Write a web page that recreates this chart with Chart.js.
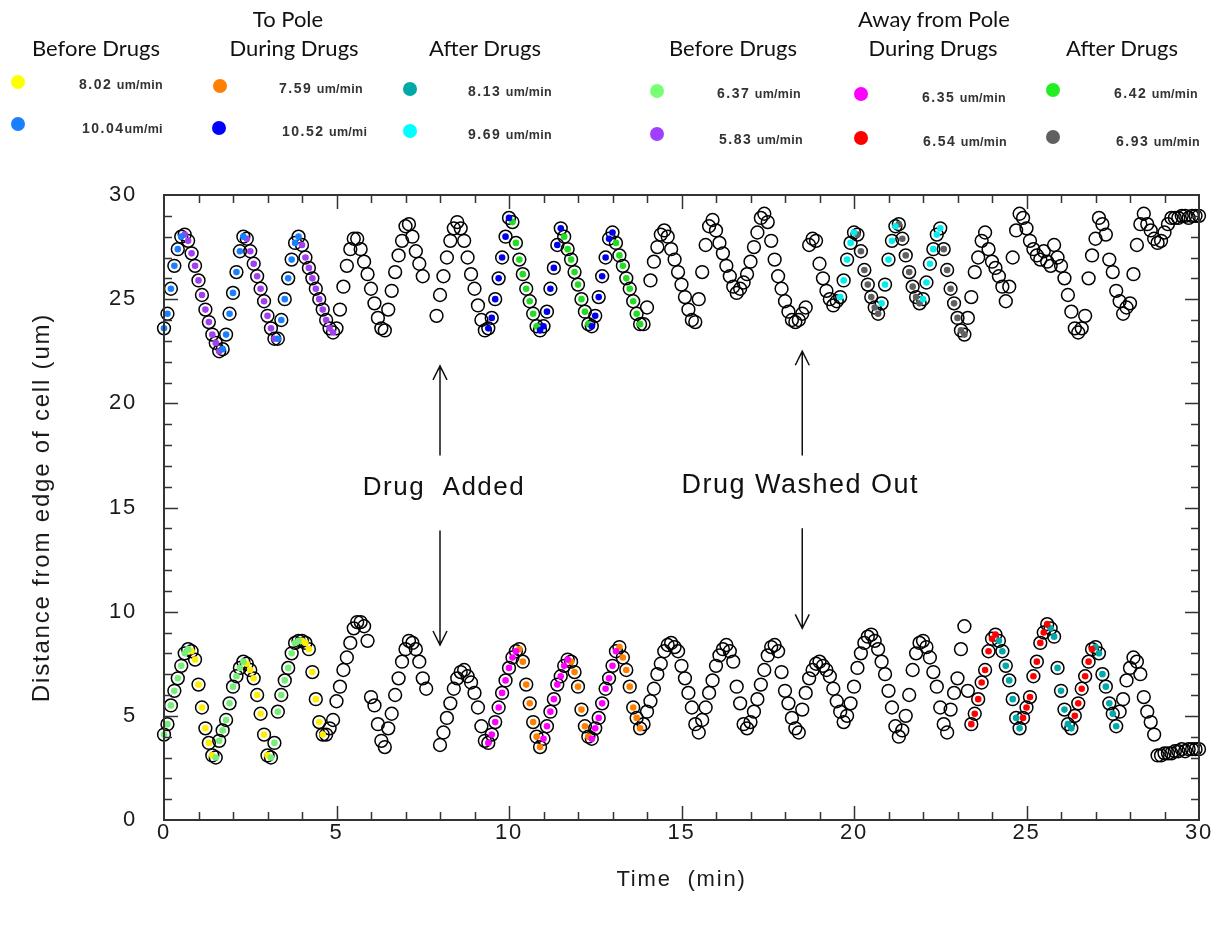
<!DOCTYPE html>
<html>
<head>
<meta charset="utf-8">
<script src="https://cdn.jsdelivr.net/npm/chart.js@4"></script>
<style>
  body { margin: 0; background: #fff; }
  #wrap { position: relative; width: 1217px; height: 926px; }
  #chart { position: absolute; left: 0; top: 0; }
  .hd { position: absolute; transform: translate(-50%, -50%); font: 22px Lato, 'Open Sans', sans-serif; color: #111; white-space: nowrap; }
  .dot { position: absolute; width: 14px; height: 14px; border-radius: 50%; transform: translate(-50%, -50%); }
  .val { position: absolute; transform: translateY(-50%); font-family: 'Liberation Sans', Arial, sans-serif; font-weight: bold; color: #333; white-space: nowrap; }
  .val b { font-size: 14px; letter-spacing: 1.5px; }
  .val span { font-size: 12.5px; letter-spacing: 0.3px; }
</style>
</head>
<body>
<div id="wrap">
  <canvas id="chart" width="1217" height="926"></canvas>

  <div class="hd" style="left:288px;top:18px">To Pole</div>
  <div class="hd" style="left:96px;top:47px">Before Drugs</div>
  <div class="hd" style="left:294px;top:47px">During Drugs</div>
  <div class="hd" style="left:485px;top:47px">After Drugs</div>
  <div class="hd" style="left:934px;top:18px">Away from Pole</div>
  <div class="hd" style="left:733px;top:47px">Before Drugs</div>
  <div class="hd" style="left:933px;top:47px">During Drugs</div>
  <div class="hd" style="left:1122px;top:47px">After Drugs</div>

  <div class="dot" style="left:18px;top:82px;background:#ffff00"></div>
  <div class="val" style="left:79px;top:84px"><b>8.02</b> <span>um/min</span></div>
  <div class="dot" style="left:18px;top:124px;background:#1a80ff"></div>
  <div class="val" style="left:82px;top:128px"><b>10.04</b><span>um/mi</span></div>
  <div class="dot" style="left:220px;top:86px;background:#ff7f00"></div>
  <div class="val" style="left:279px;top:88px"><b>7.59</b> <span>um/min</span></div>
  <div class="dot" style="left:219px;top:128px;background:#0000ff"></div>
  <div class="val" style="left:282px;top:131px"><b>10.52</b> <span>um/mi</span></div>
  <div class="dot" style="left:410px;top:89px;background:#00a8a8"></div>
  <div class="val" style="left:468px;top:91px"><b>8.13</b> <span>um/min</span></div>
  <div class="dot" style="left:410px;top:131px;background:#00ffff"></div>
  <div class="val" style="left:468px;top:134px"><b>9.69</b> <span>um/min</span></div>

  <div class="dot" style="left:657px;top:91px;background:#77ff77"></div>
  <div class="val" style="left:717px;top:93px"><b>6.37</b> <span>um/min</span></div>
  <div class="dot" style="left:657px;top:134px;background:#a040ff"></div>
  <div class="val" style="left:719px;top:139px"><b>5.83</b> <span>um/min</span></div>
  <div class="dot" style="left:861px;top:94px;background:#ff00ff"></div>
  <div class="val" style="left:922px;top:97px"><b>6.35</b> <span>um/min</span></div>
  <div class="dot" style="left:861px;top:138px;background:#ff0000"></div>
  <div class="val" style="left:923px;top:141px"><b>6.54</b> <span>um/min</span></div>
  <div class="dot" style="left:1053px;top:90px;background:#22ee22"></div>
  <div class="val" style="left:1114px;top:93px"><b>6.42</b> <span>um/min</span></div>
  <div class="dot" style="left:1053px;top:137px;background:#606060"></div>
  <div class="val" style="left:1116px;top:141px"><b>6.93</b> <span>um/min</span></div>
</div>

<script>
// sampling interval of the time-lapse (min)
const STEP = 0.1;

// upper kinetochore, distance (um) every STEP min from t = 0
const topTrack = [
  23.6, 24.3, 25.5, 26.6, 27.4, 28.0, 28.1, 27.8, 27.2, 26.6,
  25.9, 25.2, 24.5, 23.9, 23.3, 22.9, 22.5, 22.6, 23.3, 24.3,
  25.3, 26.3, 27.3, 28.0, 27.9, 27.3, 26.7, 26.1, 25.5, 24.9,
  24.2, 23.6, 23.1, 23.1, 24.0, 25.0, 26.0, 26.9, 27.7, 28.0,
  27.6, 27.0, 26.5, 26.0, 25.5, 25.0, 24.5, 24.0, 23.6, 23.4,
  23.6, 24.5, 25.6, 26.6, 27.4, 27.9, 27.9, 27.4, 26.8, 26.2,
  25.5, 24.8, 24.1, 23.6, 23.5, 24.5, 25.4, 26.3, 27.1, 27.8,
  28.5, 28.6, 28.0, 27.3, 26.7, 26.1, null, null, null, 24.2,
  25.2, 26.1, 27.0, 27.8, 28.4, 28.7, 28.4, 27.8, 27.0, 26.2,
  25.5, 24.7, 24.0, 23.5, 23.6, 24.1, 25.0, 26.0, 27.0, 28.0,
  28.9, 28.7, 27.7, 26.9, 26.2, 25.5, 24.9, 24.3, 23.7, 23.5,
  23.7, 24.4, 25.5, 26.5, 27.6, 28.4, 28.0, 27.4, 26.9, 26.3,
  25.7, 25.0, 24.4, 23.8, 23.7, 24.2, 25.1, 26.1, 27.0, 27.9,
  28.2, 27.7, 27.1, 26.6, 26.0, 25.5, 24.9, 24.3, 23.8, 23.8,
  24.6, 25.9, 26.8, 27.5, 28.1, 28.3, 28.0, 27.4, 26.9, 26.3,
  25.7, 25.1, 24.5, 24.0, 23.9, 25.0, 26.3, 27.6, 28.5, 28.8,
  28.3, 27.7, 27.2, 26.6, 26.1, 25.6, 25.3, 25.5, 25.8, 26.2,
  26.8, 27.5, 28.2, 28.9, 29.1, 28.7, 27.8, 26.9, 26.1, 25.5,
  24.9, 24.4, 24.0, 23.9, 24.0, 24.3, 24.6, 27.6, 27.9, 27.8,
  26.7, 26.0, 25.4, 25.0, 24.7, 24.9, 25.1, 25.9, 26.9, 27.7,
  28.2, 28.1, 27.3, 26.4, 25.7, 25.1, 24.6, 24.3, 24.8, 25.7,
  26.9, 27.8, 28.5, 28.6, 27.9, 27.1, 26.3, 25.6, 25.1, 24.8,
  25.0, 25.8, 26.7, 27.4, 28.1, 28.4, 27.4, 26.4, 25.5, 24.8,
  24.1, 23.5, 23.3, 24.1, 25.1, 26.3, 27.0, 27.8, 28.2, 27.4,
  26.8, 26.5, 26.1, 25.6, 24.9, 25.6, 27.0, 28.3, 29.1, 28.9,
  28.4, 27.8, 27.4, 27.1, 26.9, 27.3, 26.8, 26.6, 27.6, 27.0,
  26.6, 26.0, 25.2, 24.4, 23.6, 23.4, 23.6, 24.2, 26.0, 27.1,
  27.9, 28.9, 28.6, 28.1, 26.9, 26.3, 25.4, 24.9, 24.3, 24.6,
  24.8, 26.2, 27.6, 28.6, 29.1, 28.6, 28.3, 27.9, 27.7, 27.8,
  28.2, 28.6, 28.9, 28.9, 28.9, 29.0, 29.0, 28.9, 29.0, 29.0,
  29.0
];

// lower kinetochore, distance (um) every STEP min from t = 0
const bottomTrack = [
  4.1, 4.6, 5.5, 6.2, 6.8, 7.4, 8.0, 8.2, 8.1, 7.7,
  6.5, 5.4, 4.4, 3.7, 3.1, 3.0, 3.8, 4.3, 4.8, 5.6,
  6.4, 6.9, 7.3, 7.6, 7.5, 7.2, 6.8, 6.0, 5.1, 4.1,
  3.1, 3.0, 3.7, 5.2, 6.0, 6.7, 7.3, 8.0, 8.5, 8.6,
  8.6, 8.5, 8.2, 7.1, 5.8, 4.7, 4.1, 4.1, 4.4, 4.8,
  5.7, 6.4, 7.2, 7.8, 8.5, 9.2, 9.5, 9.5, 9.3, 8.6,
  5.9, 5.5, 4.6, 3.8, 3.5, 4.4, 5.1, 6.0, 6.8, 7.6,
  8.2, 8.6, 8.5, 8.2, 7.6, 6.8, 6.3, null, null, null,
  3.6, 4.2, 4.9, 5.6, 6.3, 6.8, 7.1, 7.2, 6.9, 6.6,
  6.1, 5.4, 4.5, 3.8, 3.7, 4.1, 4.7, 5.4, 6.1, 6.7,
  7.3, 7.8, 8.1, 8.2, 7.6, 6.5, 5.6, 4.7, 4.0, 3.5,
  3.9, 4.5, 5.2, 5.8, 6.5, 6.9, 7.4, 7.7, 7.6, 7.1,
  6.4, 5.3, 4.5, 4.0, 3.9, 4.4, 4.9, 5.6, 6.3, 6.8,
  7.4, 8.1, 8.3, 7.8, 7.2, 6.4, 5.4, 4.9, 4.4, 4.6,
  5.2, 5.7, 6.3, 7.0, 7.5, 8.1, 8.4, 8.5, 8.3, 8.1,
  7.4, 6.8, 6.1, 5.4, 4.6, 4.2, 4.8, 5.4, 6.1, 6.7,
  7.4, 7.9, 8.2, 8.4, 8.1, 7.6, 6.4, 5.6, 4.6, 4.4,
  4.7, 5.2, 5.8, 6.5, 7.2, 7.9, 8.3, 8.4, 8.1, 7.1,
  6.2, 5.6, 4.9, 4.4, 4.2, 5.3, 6.1, 6.8, 7.2, 7.5,
  7.6, 7.4, 7.2, 6.9, 6.3, 5.7, 5.2, 4.7, 5.0, 5.6,
  6.4, 7.3, 8.0, 8.5, 8.8, 8.9, 8.6, 8.2, 7.6, 7.0,
  6.2, 5.4, 4.5, 4.0, 4.3, 5.0, 6.0, 7.2, 8.0, 8.5,
  8.6, 8.3, 7.8, 7.1, 6.4, 5.4, 4.6, 4.2, 5.3, 6.1,
  6.8, 8.2, 9.3, 6.2, 4.6, 5.1, 5.8, 6.6, 7.2, 8.1,
  8.7, 8.9, 8.6, 8.1, 7.4, 6.7, 5.8, 4.9, 4.4, 4.9,
  5.4, 5.9, 6.9, 7.6, 8.5, 9.0, 9.4, 9.2, 8.8, 7.3,
  6.2, 5.3, 4.6, 4.4, 5.0, 5.6, 6.3, 6.9, 7.6, 8.2,
  8.3, 8.0, 7.0, 6.4, 5.6, 5.1, 4.5, 5.2, 5.8, 6.7,
  7.3, 7.8, 7.6, 7.0, 5.9, 5.2, 4.7, 4.1, 3.1, 3.1,
  3.2, 3.2, 3.2, 3.3, 3.3, 3.4, 3.3, 3.4, 3.4, 3.4,
  3.4
];

// time windows (min) of the fitted runs, per legend entry
const toPoleBefore1 = [[0.0, 0.5], [1.7, 2.3], [3.3, 3.9]];      // 10.04 um/min (upper)
const awayBefore1 = [[0.6, 1.6], [2.4, 3.2], [4.0, 4.9]];        // 5.83 um/min (upper)
const toPoleDuring1 = [[9.4, 10.0], [10.9, 11.5], [12.4, 13.0]]; // 10.52 um/min (upper)
const awayAfter1 = [[10.1, 10.8], [11.6, 12.3], [13.1, 13.8]];   // 6.42 um/min (upper)
const toPoleAfter1 = [[19.6, 20.0], [20.8, 21.2], [22.0, 22.5]]; // 9.69 um/min (upper)
const awayAfter2 = [[20.1, 20.7], [21.3, 21.9], [22.6, 23.2]];   // 6.93 um/min (upper)
const awayBefore2 = [[0.0, 0.7], [1.5, 2.3], [3.1, 3.9]];        // 6.37 um/min (lower)
const toPoleBefore2 = [[0.8, 1.4], [2.4, 3.0], [4.0, 4.6]];      // 8.02 um/min (lower)
const awayDuring2 = [[9.4, 10.2], [11.0, 11.7], [12.4, 13.1]];   // 6.35 um/min (lower)
const toPoleDuring2 = [[10.3, 10.9], [11.8, 12.3], [13.2, 13.8]]; // 7.59 um/min (lower)
const awayDuring3 = [[23.4, 24.1], [24.9, 25.6], [26.4, 26.9]];  // 6.54 um/min (lower)
const toPoleAfter2 = [[24.2, 24.8], [25.7, 26.3], [27.0, 27.6]]; // 8.13 um/min (lower)

const eventLabels = ['Drug  Added', 'Drug Washed Out'];
const eventTimes = [8.0, 18.5];

const xTicks = [0, 5, 10, 15, 20, 25, 30];
const yTicks = [0, 5, 10, 15, 20, 25, 30];

function trackPoints(track) {
  const pts = [];
  track.forEach((v, i) => { if (v !== null) pts.push({ x: i * STEP, y: v }); });
  return pts;
}

function segmentPoints(track, windows) {
  return trackPoints(track).filter(p => windows.some(([a, b]) => p.x >= a - 1e-6 && p.x <= b + 1e-6));
}

function colored(track, windows, color) {
  return {
    data: segmentPoints(track, windows),
    pointRadius: 3.3,
    pointBorderWidth: 0,
    pointBackgroundColor: color,
    pointHoverRadius: 3.3,
    showLine: false,
    clip: false,
    order: 1
  };
}

function open(track) {
  return {
    data: trackPoints(track),
    pointRadius: 6.4,
    pointBorderWidth: 1.5,
    pointBorderColor: '#000',
    pointBackgroundColor: 'rgba(0,0,0,0)',
    pointHoverRadius: 6.4,
    showLine: false,
    clip: false,
    order: 2
  };
}

const SPACING = '1.8px';

const framePlugin = {
  id: 'frame',
  beforeUpdate(chart) { chart.ctx.letterSpacing = SPACING; },
  beforeDraw(chart) { chart.ctx.letterSpacing = SPACING; },
  afterDraw(chart) {
    const { ctx, chartArea: a, scales: { x, y } } = chart;
    ctx.save();
    ctx.strokeStyle = '#333';
    ctx.lineWidth = 2;
    ctx.strokeRect(a.left, a.top, a.right - a.left, a.bottom - a.top);

    // inward ticks on all four sides
    ctx.lineWidth = 1.5;
    ctx.beginPath();
    for (let v = 1; v < 30; v++) {
      const len = v % 5 === 0 ? 14 : 8;
      const px = Math.round(x.getPixelForValue(v)) + 0.5;
      ctx.moveTo(px, a.bottom); ctx.lineTo(px, a.bottom - len);
      ctx.moveTo(px, a.top); ctx.lineTo(px, a.top + len);
      const py = Math.round(y.getPixelForValue(v)) + 0.5;
      ctx.moveTo(a.left, py); ctx.lineTo(a.left + len, py);
      ctx.moveTo(a.right, py); ctx.lineTo(a.right - len, py);
    }
    ctx.stroke();

    // drug event arrows and labels
    const arrows = [
      { upTip: 21.8, upTail: 17.5, text: 15.95, downTail: 13.9, downTip: 8.4, dx: 4, size: 26 },
      { upTip: 22.5, upTail: 17.5, text: 16.05, downTail: 14.0, downTip: 9.2, dx: -2, size: 27 }
    ];
    ctx.strokeStyle = '#111';
    ctx.lineWidth = 1.5;
    ctx.fillStyle = '#111';
    ctx.letterSpacing = '1.5px';
    ctx.textAlign = 'center';
    ctx.textBaseline = 'middle';
    eventTimes.forEach((t, i) => {
      const g = arrows[i];
      const px = x.getPixelForValue(t);
      const ut = y.getPixelForValue(g.upTip), ul = y.getPixelForValue(g.upTail);
      const dl = y.getPixelForValue(g.downTail), dt = y.getPixelForValue(g.downTip);
      ctx.beginPath();
      ctx.moveTo(px, ul); ctx.lineTo(px, ut);
      ctx.moveTo(px - 7, ut + 14); ctx.lineTo(px, ut); ctx.lineTo(px + 7, ut + 14);
      ctx.moveTo(px, dl); ctx.lineTo(px, dt);
      ctx.moveTo(px - 7, dt - 14); ctx.lineTo(px, dt); ctx.lineTo(px + 7, dt - 14);
      ctx.stroke();
      ctx.font = g.size + "px 'Liberation Sans', Arial, sans-serif";
      ctx.fillText(eventLabels[i], px + g.dx, y.getPixelForValue(g.text));
    });
    ctx.restore();
  }
};

Chart.defaults.font.family = "'Liberation Sans', Arial, sans-serif";
Chart.defaults.color = '#1a1a1a';

const ctx = document.getElementById('chart').getContext('2d');
ctx.letterSpacing = SPACING;

new Chart(ctx, {
  type: 'scatter',
  data: {
    datasets: [
      open(topTrack),
      open(bottomTrack),
      colored(topTrack, toPoleBefore1, '#1a80ff'),
      colored(topTrack, awayBefore1, '#a040f0'),
      colored(topTrack, toPoleDuring1, '#0000ee'),
      colored(topTrack, awayAfter1, '#22dd22'),
      colored(topTrack, toPoleAfter1, '#00eeee'),
      colored(topTrack, awayAfter2, '#606060'),
      colored(bottomTrack, awayBefore2, '#77ee77'),
      colored(bottomTrack, toPoleBefore2, '#ffee00'),
      colored(bottomTrack, awayDuring2, '#ff00ff'),
      colored(bottomTrack, toPoleDuring2, '#ff8000'),
      colored(bottomTrack, awayDuring3, '#ff0000'),
      colored(bottomTrack, toPoleAfter2, '#00aaaa')
    ]
  },
  options: {
    responsive: false,
    animation: false,
    events: [],
    layout: { padding: { top: 195, right: 18, left: 0, bottom: 0 } },
    plugins: { legend: { display: false }, tooltip: { enabled: false } },
    scales: {
      x: {
        type: 'linear',
        min: 0,
        max: 30,
        afterBuildTicks(s) { s.ticks = xTicks.map(v => ({ value: v })); },
        afterFit(s) { s.height = 106; },
        grid: { display: false, drawTicks: false },
        border: { display: false },
        ticks: { padding: 0, font: { size: 22 }, color: '#1a1a1a', maxRotation: 0 },
        title: { display: true, text: 'Time  (min)', font: { size: 22 }, color: '#1a1a1a', padding: { top: 0, bottom: 33 } }
      },
      y: {
        type: 'linear',
        min: 0,
        max: 30,
        afterBuildTicks(s) { s.ticks = yTicks.map(v => ({ value: v })); },
        afterFit(s) { s.width = 164; },
        grid: { display: false, drawTicks: false },
        border: { display: false },
        ticks: { padding: 27, font: { size: 22 }, color: '#1a1a1a' },
        title: { display: true, text: 'Distance from edge of cell (um)', font: { size: 24 }, color: '#1a1a1a', padding: { top: 28, bottom: 0 } }
      }
    }
  },
  plugins: [framePlugin]
});
</script>
</body>
</html>
